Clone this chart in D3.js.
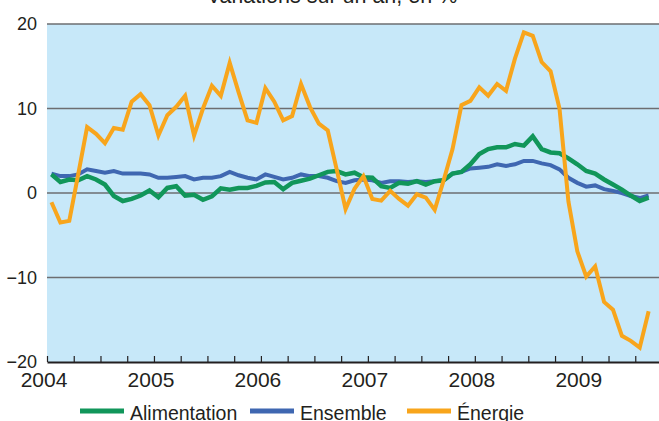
<!DOCTYPE html>
<html lang="fr">
<head>
<meta charset="utf-8">
<script src="https://cdn.jsdelivr.net/npm/d3@7"></script>
<style>
  html, body { margin: 0; padding: 0; background: #fff; }
  svg { display: block; font-family: "Liberation Sans", Arial, sans-serif; }
</style>
</head>
<body>
<div id="chart"></div>
<script>
// Glissement annuel mensuel, janvier 2004 -> août 2009
const START_YEAR = 2004;
const YEAR_TICKS = [2004, 2005, 2006, 2007, 2008, 2009];
const Y_TICKS = [-20, -10, 0, 10, 20];

const alimentation = [
  2.2, 1.3, 1.6, 1.5, 2.0, 1.6, 1.0, -0.35, -0.95, -0.7, -0.3, 0.3,
  -0.5, 0.6, 0.8, -0.3, -0.2, -0.8, -0.4, 0.55, 0.4, 0.6, 0.6, 0.85,
  1.25, 1.3, 0.45, 1.2, 1.45, 1.7, 2.1, 2.5, 2.6, 2.2, 2.4, 1.85,
  1.8, 0.8, 0.6, 1.2, 1.1, 1.4, 1.0, 1.4, 1.5, 2.3, 2.5, 3.4,
  4.6, 5.2, 5.4, 5.4, 5.8, 5.6, 6.7, 5.2, 4.8, 4.7, 4.1, 3.4,
  2.6, 2.3, 1.6, 1.0, 0.4, -0.3, -0.95, -0.55
];

const ensemble = [
  2.3, 2.0, 2.0, 2.2, 2.8, 2.6, 2.4, 2.6, 2.3, 2.3, 2.3, 2.2,
  1.8, 1.8, 1.9, 2.0, 1.6, 1.8, 1.8, 2.0, 2.5, 2.1, 1.8, 1.6,
  2.2, 1.9, 1.6, 1.8, 2.2, 2.0, 2.0, 1.8, 1.4, 1.2, 1.5, 1.6,
  1.5, 1.2, 1.4, 1.4, 1.3, 1.4, 1.3, 1.4, 1.5, 2.3, 2.5, 2.9,
  3.0, 3.1, 3.4, 3.2, 3.4, 3.8, 3.8, 3.5, 3.3, 2.8, 1.8, 1.2,
  0.75, 0.9, 0.45, 0.25, 0.0, -0.35, -0.6, -0.3
];

const energie = [
  -1.1, -3.5, -3.3, 2.2, 7.8, 7.0, 5.9, 7.7, 7.5, 10.8, 11.7, 10.4,
  6.8, 9.2, 10.2, 11.5, 6.8, 10.0, 12.7, 11.5, 15.4, 11.9, 8.6, 8.3,
  12.4, 10.8, 8.6, 9.1, 12.9, 10.2, 8.2, 7.4, 2.8, -1.9, 0.5, 2.0,
  -0.7, -0.9, 0.25, -0.7, -1.5, -0.15, -0.55, -2.0, 1.5, 5.2, 10.4, 10.9,
  12.5, 11.5, 12.9, 12.1, 15.9, 19.0, 18.6, 15.5, 14.4, 10.0, -1.0, -6.9,
  -9.9, -8.7, -12.9, -13.8, -16.9, -17.5, -18.3, -14.0
];

const SERIES = [
  { name: 'Ensemble', values: ensemble, color: '#3f67b1', width: 4 },
  { name: 'Alimentation', values: alimentation, color: '#11965a', width: 4.5 },
  { name: 'Énergie', values: energie, color: '#f8a51c', width: 4 }
];
const LEGEND_ORDER = ['Alimentation', 'Ensemble', 'Énergie'];

const W = 659, H = 421;
const plot = { left: 47, right: 662, top: 24, bottom: 362 };

function draw() {
  const svg = d3.select('#chart').append('svg')
    .attr('width', W)
    .attr('height', H);

  const x = d3.scaleLinear()
    .domain([START_YEAR, START_YEAR + 5.75])
    .range([plot.left, plot.right]);
  const y = d3.scaleLinear()
    .domain([-20, 20])
    .range([plot.bottom, plot.top]);

  // Titre (coupé en haut de l'image)
  svg.append('text')
    .attr('x', 332).attr('y', 3)
    .attr('text-anchor', 'middle')
    .attr('font-size', '21.5px')
    .attr('fill', '#231f20')
    .text('Variations sur un an, en %');

  // Fond
  svg.append('rect')
    .attr('x', plot.left).attr('y', plot.top)
    .attr('width', plot.right - plot.left)
    .attr('height', plot.bottom - plot.top)
    .attr('fill', '#c7e8f9');

  // Grille horizontale
  svg.append('g')
    .selectAll('line')
    .data(Y_TICKS.filter(d => d > -20))
    .join('line')
    .attr('x1', plot.left).attr('x2', plot.right)
    .attr('y1', d => y(d)).attr('y2', d => y(d))
    .attr('stroke', '#6d6e71')
    .attr('stroke-width', 1.6);

  // Axe Y (libellés seulement)
  const yAxis = svg.append('g')
    .attr('transform', `translate(${plot.left},0)`)
    .call(d3.axisLeft(y).tickValues(Y_TICKS).tickSize(0).tickPadding(10));
  yAxis.select('.domain').remove();
  yAxis.selectAll('text')
    .attr('font-size', '18px')
    .attr('font-family', '"Liberation Sans", Arial, sans-serif')
    .attr('fill', '#231f20');

  // Axe X : trimestres, graduations vers l'intérieur
  const quarters = d3.range(0, 24).map(q => START_YEAR + q / 4);
  const xAxis = svg.append('g')
    .attr('transform', `translate(0,${plot.bottom})`)
    .call(d3.axisBottom(x).tickValues(quarters).tickSizeInner(-6).tickSizeOuter(0).tickFormat(''));
  xAxis.select('.domain')
    .attr('stroke', '#231f20')
    .attr('stroke-width', 2);
  xAxis.selectAll('.tick line')
    .attr('stroke', '#231f20')
    .attr('stroke-width', 1.2);

  svg.append('g')
    .selectAll('text')
    .data(YEAR_TICKS)
    .join('text')
    .attr('x', d => x(d) - 3)
    .attr('y', 387)
    .attr('text-anchor', 'middle')
    .attr('font-size', '21px')
    .attr('fill', '#231f20')
    .text(d => d);

  // Courbes
  const line = d3.line()
    .x((d, i) => x(START_YEAR + (i + 0.5) / 12))
    .y(d => y(d));

  svg.append('g')
    .selectAll('path')
    .data(SERIES)
    .join('path')
    .attr('d', d => line(d.values))
    .attr('fill', 'none')
    .attr('stroke', d => d.color)
    .attr('stroke-width', d => d.width)
    .attr('stroke-linejoin', 'miter');

  // Légende
  const legendX = [80, 250, 407];
  const legend = svg.append('g')
    .selectAll('g')
    .data(LEGEND_ORDER.map(n => SERIES.find(s => s.name === n)))
    .join('g')
    .attr('transform', (d, i) => `translate(${legendX[i]},411)`);
  legend.append('line')
    .attr('x1', 0).attr('x2', 44)
    .attr('stroke', d => d.color)
    .attr('stroke-width', 5);
  legend.append('text')
    .attr('x', 50).attr('y', 9)
    .attr('font-size', '19.5px')
    .attr('fill', '#231f20')
    .text(d => d.name);
}

draw();
</script>
</body>
</html>
